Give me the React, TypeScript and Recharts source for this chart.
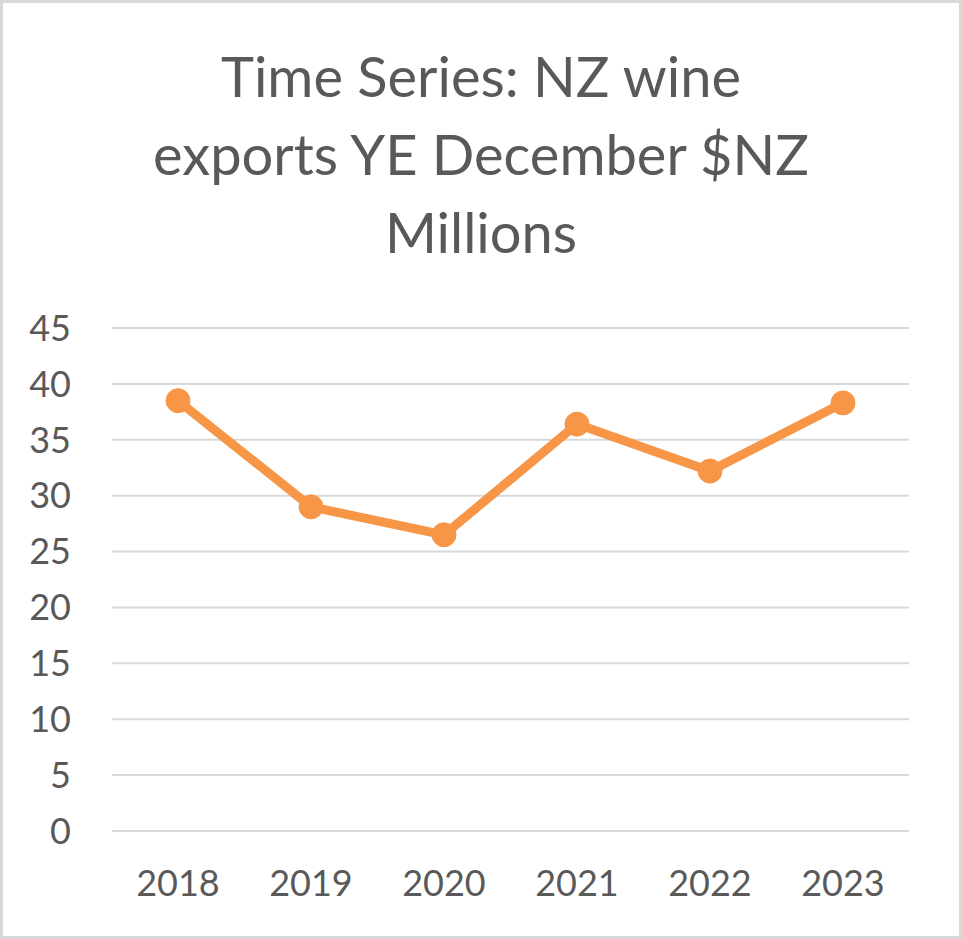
import { CartesianGrid, Line, LineChart, XAxis, YAxis } from "recharts";

const years = ["2018", "2019", "2020", "2021", "2022", "2023"];
const exportsNzdM = [38.5, 29.0, 26.5, 36.4, 32.2, 38.3];
const yTicks = [0, 5, 10, 15, 20, 25, 30, 35, 40, 45];
const titleLines = ["Time Series: NZ wine", "exports YE December $NZ", "Millions"];

const data = years.map((year, i) => ({ year, value: exportsNzdM[i] }));

const FONT = "Lato, 'Open Sans', sans-serif";
const TEXT = "#595959";
const ORANGE = "#F79646";

export default function App() {
  return (
    <div
      style={{
        position: "absolute",
        left: 0,
        top: 0,
        width: 962,
        height: 939,
        background: "#fff",
        border: "3px solid #d9d9d9",
        boxSizing: "border-box",
        fontFamily: FONT,
      }}
    >
      <svg
        width={962}
        height={300}
        style={{ position: "absolute", left: -3, top: -3 }}
      >
        {titleLines.map((line, i) => (
          <text
            key={line}
            x={481}
            y={97 + i * 78}
            textAnchor="middle"
            fill={TEXT}
            fontSize={56}
            fontFamily={FONT}
          >
            {line}
          </text>
        ))}
      </svg>
      <div style={{ position: "absolute", left: -3, top: -3 }}>
        <LineChart
          width={962}
          height={939}
          data={data}
          margin={{ top: 328, right: 53, left: 0, bottom: 48 }}
        >
          <CartesianGrid stroke="#d9d9d9" strokeWidth={2} vertical={false} />
          <XAxis
            dataKey="year"
            axisLine={false}
            tickLine={false}
            tickSize={0}
            tickMargin={39}
            height={60}
            padding={{ left: 66, right: 66 }}
            tick={{ fill: TEXT, fontSize: 36, fontFamily: FONT }}
          />
          <YAxis
            domain={[0, 45]}
            ticks={yTicks}
            axisLine={false}
            tickLine={false}
            tickSize={0}
            tickMargin={41}
            width={112}
            tick={{ fill: TEXT, fontSize: 36, fontFamily: FONT }}
          />
          <Line
            type="linear"
            dataKey="value"
            stroke={ORANGE}
            strokeWidth={9}
            dot={{ r: 12, fill: ORANGE, stroke: ORANGE, strokeWidth: 1 }}
            activeDot={false}
            isAnimationActive={false}
          />
        </LineChart>
      </div>
    </div>
  );
}
